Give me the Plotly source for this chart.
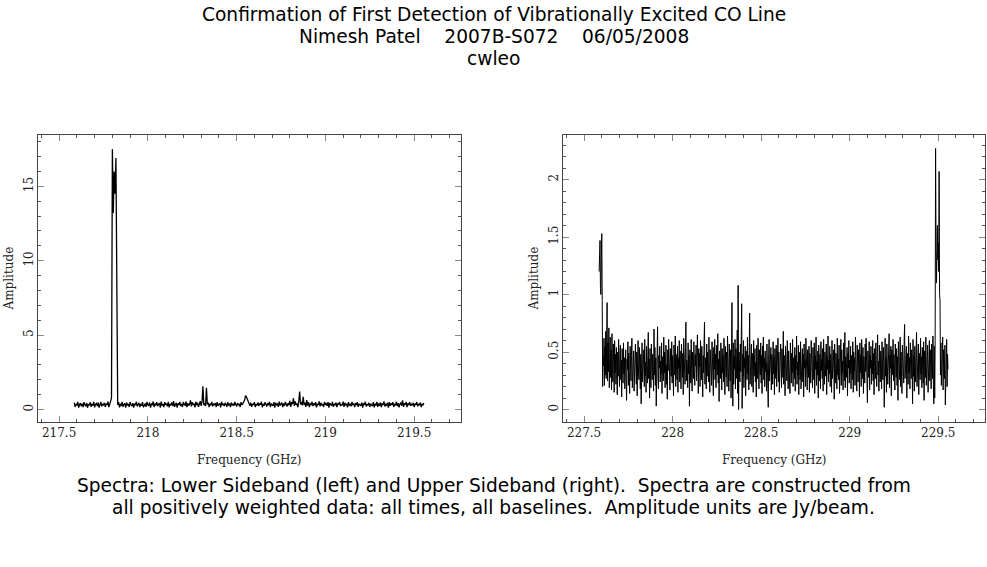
import numpy as np
import plotly.graph_objs as go
from plotly.subplots import make_subplots

# Lower sideband channels, 5 MHz apart, starting at 217.585 GHz
lsb_start_ghz = 217.585
lsb_step_ghz = 0.005
lsb_amp = [
    0.46, 0.16, 0.36, 0.27, 0.50, 0.12, 0.33, 0.42, 0.21, 0.38, 0.15, 0.49, 0.30, 0.24, 0.44, 0.11, 0.35, 0.28, 0.48, 0.17,
    0.37, 0.25, 0.51, 0.14, 0.34, 0.40, 0.22, 0.46, 0.12, 0.32, 0.49, 0.20, 0.36, 0.27, 0.44, 0.16, 0.39, 0.30, 0.52, 0.15,
    0.35, 0.42, 0.75, 17.50, 13.20, 16.00, 14.50, 16.90, 3.60, 0.30, 0.48, 0.14, 0.37, 0.23, 0.50, 0.17, 0.34, 0.40, 0.11, 0.46,
    0.27, 0.36, 0.16, 0.49, 0.31, 0.22, 0.42, 0.12, 0.38, 0.28, 0.51, 0.20, 0.33, 0.44, 0.15, 0.37, 0.25, 0.48, 0.14, 0.35,
    0.40, 0.17, 0.50, 0.30, 0.24, 0.46, 0.11, 0.36, 0.32, 0.53, 0.16, 0.39, 0.27, 0.49, 0.22, 0.34, 0.42, 0.12, 0.52, 0.25,
    0.35, 0.15, 0.48, 0.31, 0.38, 0.20, 0.51, 0.14, 0.37, 0.28, 0.46, 0.24, 0.55, 0.17, 0.34, 0.44, 0.12, 0.40, 0.30, 0.50,
    0.22, 0.36, 0.16, 0.49, 0.32, 0.27, 0.53, 0.15, 0.42, 0.25, 0.35, 0.60, 0.20, 0.48, 0.30, 0.38, 0.14, 0.51, 0.28, 0.44,
    0.17, 0.37, 0.55, 0.23, 0.49, 1.55, 0.30, 0.35, 0.22, 1.45, 0.33, 0.46, 0.15, 0.38, 0.27, 0.50, 0.20, 0.36, 0.31, 0.42,
    0.16, 0.48, 0.25, 0.34, 0.40, 0.14, 0.51, 0.28, 0.37, 0.22, 0.44, 0.32, 0.17, 0.49, 0.30, 0.35, 0.15, 0.46, 0.27, 0.38,
    0.24, 0.50, 0.33, 0.20, 0.42, 0.28, 0.36, 0.16, 0.48, 0.31, 0.38, 0.48, 0.62, 0.92, 0.85, 0.70, 0.52, 0.34, 0.25, 0.44,
    0.17, 0.37, 0.30, 0.49, 0.15, 0.35, 0.27, 0.46, 0.22, 0.40, 0.32, 0.51, 0.14, 0.36, 0.25, 0.48, 0.31, 0.20, 0.42, 0.28,
    0.50, 0.16, 0.38, 0.33, 0.24, 0.49, 0.12, 0.44, 0.30, 0.36, 0.17, 0.52, 0.27, 0.34, 0.46, 0.15, 0.40, 0.25, 0.50, 0.32,
    0.20, 0.42, 0.28, 0.58, 0.16, 0.48, 0.35, 0.75, 0.24, 0.53, 0.31, 0.38, 0.14, 0.55, 1.20, 0.33, 0.50, 0.27, 0.85, 0.30,
    0.46, 0.17, 0.62, 0.25, 0.49, 0.15, 0.37, 0.32, 0.51, 0.22, 0.40, 0.28, 0.48, 0.14, 0.36, 0.30, 0.53, 0.20, 0.44, 0.27,
    0.35, 0.16, 0.50, 0.31, 0.38, 0.24, 0.48, 0.12, 0.42, 0.33, 0.25, 0.51, 0.17, 0.37, 0.28, 0.46, 0.15, 0.40, 0.32, 0.49,
    0.22, 0.36, 0.27, 0.52, 0.16, 0.44, 0.30, 0.34, 0.14, 0.48, 0.25, 0.38, 0.20, 0.50, 0.31, 0.36, 0.15, 0.42, 0.28, 0.49,
    0.17, 0.37, 0.33, 0.24, 0.46, 0.12, 0.40, 0.30, 0.51, 0.20, 0.35, 0.27, 0.44, 0.16, 0.38, 0.32, 0.22, 0.48, 0.14, 0.36,
    0.30, 0.50, 0.17, 0.40, 0.25, 0.46, 0.15, 0.37, 0.33, 0.53, 0.20, 0.35, 0.28, 0.44, 0.12, 0.49, 0.24, 0.38, 0.31, 0.48,
    0.16, 0.36, 0.27, 0.51, 0.22, 0.42, 0.14, 0.34, 0.46, 0.25, 0.60, 0.17, 0.40, 0.30, 0.50, 0.15, 0.37, 0.32, 0.48, 0.24,
    0.35, 0.27, 0.44, 0.16, 0.38, 0.31, 0.49, 0.20, 0.36, 0.28, 0.46, 0.15, 0.37, 0.30, 0.42,
]

# Upper sideband channels, 2.5 MHz apart, starting at 227.585 GHz
usb_start_ghz = 227.585
usb_step_ghz = 0.0025
usb_amp = [
    1.20, 1.40, 1.47, 1.05, 1.00, 1.30, 1.53, 0.95, 0.20, 0.46, 0.38, 0.62, 0.21, 0.55, 0.30, 0.68, 0.27, 0.49, 0.93, 0.25,
    0.58, 0.33, 0.71, 0.19, 0.44, 0.63, 0.28, 0.52, 0.17, 0.66, 0.36, 0.24, 0.57, 0.41, 0.15, 0.60, 0.32, 0.48, 0.22, 0.54,
    0.39, 0.13, 0.50, 0.29, 0.61, 0.35, 0.20, 0.47, 0.56, 0.26, 0.43, 0.11, 0.53, 0.37, 0.23, 0.58, 0.31, 0.45, 0.18, 0.40,
    0.52, 0.27, 0.08, 0.44, 0.35, 0.59, 0.21, 0.49, 0.30, 0.14, 0.55, 0.38, 0.25, 0.47, 0.62, 0.19, 0.42, 0.33, 0.51, 0.16,
    0.46, 0.28, 0.57, 0.37, 0.22, 0.50, 0.12, 0.43, 0.60, 0.31, 0.26, 0.54, 0.40, 0.18, 0.48, 0.05, 0.36, 0.58, 0.24, 0.45,
    0.33, 0.52, 0.20, 0.61, 0.29, 0.41, 0.15, 0.55, 0.38, 0.23, 0.49, 0.67, 0.27, 0.44, 0.10, 0.53, 0.34, 0.19, 0.57, 0.40,
    0.26, 0.48, 0.35, 0.16, 0.70, 0.30, 0.54, 0.21, 0.45, 0.03, 0.39, 0.60, 0.72, 0.28, 0.18, 0.47, 0.36, 0.55, 0.24, 0.42,
    0.31, 0.58, 0.14, 0.46, 0.37, 0.25, 0.63, 0.32, 0.50, 0.19, 0.43, 0.56, 0.22, 0.39, 0.09, 0.52, 0.34, 0.61, 0.27, 0.44,
    0.17, 0.53, 0.40, 0.29, 0.59, 0.23, 0.47, 0.35, 0.12, 0.56, 0.42, 0.30, 0.64, 0.20, 0.48, 0.38, 0.26, 0.55, 0.15, 0.45,
    0.36, 0.60, 0.24, 0.51, 0.32, 0.18, 0.57, 0.41, 0.28, 0.49, 0.13, 0.62, 0.34, 0.46, 0.22, 0.54, 0.76, 0.25, 0.43, 0.37,
    0.19, 0.58, 0.31, 0.47, 0.03, 0.52, 0.39, 0.23, 0.61, 0.35, 0.16, 0.50, 0.44, 0.27, 0.59, 0.33, 0.21, 0.48, 0.38, 0.56,
    0.25, 0.42, 0.65, 0.30, 0.14, 0.53, 0.37, 0.49, 0.20, 0.60, 0.34, 0.26, 0.55, 0.41, 0.11, 0.47, 0.32, 0.58, 0.76, 0.22,
    0.45, 0.36, 0.18, 0.57, 0.29, 0.50, 0.40, 0.24, 0.63, 0.33, 0.15, 0.52, 0.38, 0.46, 0.21, 0.59, 0.28, 0.43, 0.12, 0.54,
    0.35, 0.61, 0.26, 0.48, 0.19, 0.56, 0.39, 0.30, 0.66, 0.23, 0.44, 0.07, 0.51, 0.37, 0.27, 0.58, 0.42, 0.17, 0.53, 0.32,
    0.47, 0.24, 0.62, 0.36, 0.13, 0.55, 0.40, 0.28, 0.50, 0.20, 0.64, 0.33, 0.45, 0.16, 0.57, 0.38, 0.25, 0.52, 0.10, 0.49,
    0.93, 0.30, 0.03, 0.58, 0.22, 0.46, 0.35, 0.61, 0.18, 0.53, 0.41, 0.27, 0.69, 0.14, 1.08, 0.00, 0.50, 0.37, 0.24, 0.57,
    0.33, 0.73, 0.92, 0.01, 0.48, 0.29, 0.60, 0.19, 0.45, 0.36, 0.55, 0.12, 0.51, 0.40, 0.26, 0.63, 0.31, 0.47, 0.17, 0.58,
    0.84, 0.22, 0.44, 0.34, 0.57, 0.20, 0.49, 0.38, 0.15, 0.60, 0.29, 0.46, 0.53, 0.24, 0.41, 0.11, 0.56, 0.35, 0.27, 0.62,
    0.43, 0.18, 0.52, 0.39, 0.30, 0.58, 0.23, 0.47, 0.14, 0.55, 0.36, 0.63, 0.26, 0.45, 0.20, 0.51, 0.33, 0.41, 0.16, 0.57,
    0.37, 0.28, 0.02, 0.49, 0.61, 0.25, 0.44, 0.34, 0.54, 0.17, 0.48, 0.39, 0.22, 0.59, 0.31, 0.46, 0.13, 0.53, 0.40, 0.27,
    0.56, 0.20, 0.45, 0.35, 0.62, 0.24, 0.50, 0.15, 0.42, 0.31, 0.57, 0.38, 0.19, 0.53, 0.44, 0.28, 0.68, 0.22, 0.47, 0.36,
    0.12, 0.55, 0.33, 0.46, 0.25, 0.60, 0.40, 0.18, 0.51, 0.29, 0.43, 0.14, 0.58, 0.37, 0.23, 0.49, 0.32, 0.61, 0.20, 0.45,
    0.38, 0.27, 0.54, 0.16, 0.47, 0.35, 0.64, 0.22, 0.41, 0.30, 0.56, 0.13, 0.50, 0.39, 0.26, 0.59, 0.18, 0.44, 0.34, 0.53,
    0.24, 0.48, 0.11, 0.57, 0.36, 0.43, 0.20, 0.62, 0.31, 0.46, 0.17, 0.52, 0.40, 0.28, 0.55, 0.15, 0.49, 0.37, 0.23, 0.60,
    0.33, 0.45, 0.19, 0.54, 0.39, 0.26, 0.58, 0.14, 0.47, 0.35, 0.63, 0.21, 0.42, 0.30, 0.51, 0.10, 0.56, 0.38, 0.25, 0.48,
    0.18, 0.59, 0.34, 0.44, 0.27, 0.53, 0.16, 0.61, 0.37, 0.22, 0.50, 0.41, 0.29, 0.57, 0.13, 0.46, 0.35, 0.64, 0.24, 0.43,
    0.31, 0.55, 0.20, 0.48, 0.38, 0.15, 0.60, 0.27, 0.45, 0.33, 0.52, 0.09, 0.57, 0.40, 0.23, 0.49, 0.36, 0.18, 0.62, 0.30,
    0.44, 0.26, 0.56, 0.14, 0.47, 0.37, 0.61, 0.21, 0.52, 0.32, 0.42, 0.17, 0.58, 0.35, 0.25, 0.67, 0.19, 0.46, 0.39, 0.28,
    0.54, 0.12, 0.49, 0.36, 0.60, 0.23, 0.43, 0.31, 0.55, 0.18, 0.47, 0.40, 0.26, 0.59, 0.15, 0.50, 0.34, 0.45, 0.21, 0.63,
    0.29, 0.41, 0.16, 0.56, 0.37, 0.24, 0.52, 0.44, 0.11, 0.58, 0.32, 0.48, 0.20, 0.61, 0.35, 0.27, 0.54, 0.14, 0.46, 0.39,
    0.23, 0.57, 0.33, 0.62, 0.19, 0.45, 0.06, 0.51, 0.38, 0.28, 0.59, 0.17, 0.47, 0.36, 0.55, 0.22, 0.43, 0.31, 0.60, 0.25,
    0.49, 0.13, 0.53, 0.40, 0.27, 0.58, 0.34, 0.20, 0.46, 0.65, 0.30, 0.42, 0.16, 0.56, 0.37, 0.24, 0.51, 0.44, 0.18, 0.59,
    0.35, 0.26, 0.54, 0.41, 0.02, 0.48, 0.62, 0.29, 0.45, 0.15, 0.57, 0.38, 0.22, 0.50, 0.33, 0.66, 0.19, 0.47, 0.36, 0.55,
    0.12, 0.52, 0.30, 0.43, 0.61, 0.25, 0.48, 0.37, 0.17, 0.57, 0.40, 0.28, 0.53, 0.21, 0.46, 0.08, 0.59, 0.34, 0.44, 0.26,
    0.63, 0.20, 0.50, 0.38, 0.14, 0.56, 0.31, 0.47, 0.23, 0.60, 0.74, 0.27, 0.42, 0.35, 0.55, 0.10, 0.49, 0.39, 0.22, 0.64,
    0.32, 0.45, 0.18, 0.58, 0.36, 0.27, 0.52, 0.41, 0.05, 0.61, 0.29, 0.47, 0.16, 0.55, 0.38, 0.24, 0.50, 0.67, 0.20, 0.44,
    0.34, 0.57, 0.13, 0.49, 0.40, 0.26, 0.62, 0.31, 0.46, 0.19, 0.54, 0.37, 0.23, 0.59, 0.08, 0.51, 0.43, 0.28, 0.63, 0.21,
    0.48, 0.35, 0.56, 0.15, 0.44, 0.30, 0.60, 0.25, 0.52, 0.38, 0.18, 0.57, 0.42, 0.27, 0.64, 0.22, 0.05, 0.55, 0.10, 0.60,
    2.27, 1.40, 1.10, 1.55, 1.60, 1.30, 1.45, 1.20, 2.07, 1.00, 0.95, 0.30, 0.58, 0.21, 0.49, 0.36, 0.63, 0.17, 0.52, 0.40,
    0.27, 0.56, 0.04, 0.45, 0.33, 0.61, 0.20, 0.48, 0.35,
]

title_lines = [
    "Confirmation of First Detection of Vibrationally Excited CO Line",
    "Nimesh Patel\u00a0\u00a0\u00a0\u00a02007B-S072\u00a0\u00a0\u00a0\u00a006/05/2008",
    "cwleo",
]
caption_lines = [
    "Spectra: Lower Sideband (left) and Upper Sideband (right).\u00a0\u00a0Spectra are constructed from",
    "all positively weighted data: all times, all baselines.\u00a0\u00a0Amplitude units are Jy/beam.",
]
x_title = "Frequency (GHz)"
y_title = "Amplitude"

lsb_freq = lsb_start_ghz + lsb_step_ghz * np.arange(len(lsb_amp))
usb_freq = usb_start_ghz + usb_step_ghz * np.arange(len(usb_amp))

W, H = 987, 567
text_font = dict(family="DejaVu Sans", size=18.6, color="black")
axis_font = dict(family="DejaVu Serif", size=12, color="#222")

# plot boxes in pixels: (left, right) for each panel, shared top/bottom
boxes = [(38, 461), (563, 985)]
box_top, box_bottom = 135, 422

fig = make_subplots(rows=1, cols=2)
fig.add_trace(go.Scatter(x=lsb_freq, y=lsb_amp, mode='lines',
                         line=dict(color='black', width=1.3), showlegend=False), row=1, col=1)
fig.add_trace(go.Scatter(x=usb_freq, y=usb_amp, mode='lines',
                         line=dict(color='black', width=1), showlegend=False), row=1, col=2)

common_x = dict(showline=True, linecolor='#444', linewidth=1, mirror='ticks', ticks='inside',
                ticklen=6, tickcolor='#888', dtick=0.5, showgrid=False, zeroline=False,
                tickfont=axis_font, minor=dict(ticks='inside', ticklen=3, dtick=0.1, tickcolor='#555'))
common_y = dict(showline=True, linecolor='#444', linewidth=1, mirror='ticks', ticks='inside',
                ticklen=6, tickcolor='#888', showgrid=False, zeroline=False, tickangle=-90,
                tickfont=axis_font, ticklabelstandoff=-1)

y_dom = [1 - box_bottom / H, 1 - box_top / H]
fig.update_xaxes(common_x, domain=[boxes[0][0] / W, boxes[0][1] / W], range=[217.381, 219.764],
                 tick0=217.5, row=1, col=1)
fig.update_xaxes(common_x, domain=[boxes[1][0] / W, boxes[1][1] / W], range=[227.381, 229.764],
                 tick0=227.5, row=1, col=2)
fig.update_yaxes(common_y, domain=y_dom, range=[-0.85, 18.45], dtick=5,
                 minor=dict(ticks='inside', ticklen=3, dtick=1, tickcolor='#555'), row=1, col=1)
fig.update_yaxes(common_y, domain=y_dom, range=[-0.108, 2.387], dtick=0.5,
                 minor=dict(ticks='inside', ticklen=3, dtick=0.1, tickcolor='#555'), row=1, col=2)

# title block, caption and axis titles, placed in pixels from the top left of the page
annotations = []
for i, line in enumerate(title_lines):
    annotations.append(dict(text=line, x=0.5, y=1 - (14 + 22 * i) / H, xref='paper', yref='paper',
                            showarrow=False, font=text_font, xanchor='center', yanchor='middle'))
for i, line in enumerate(caption_lines):
    annotations.append(dict(text=line, x=0.5, y=1 - (485 + 22 * i) / H, xref='paper', yref='paper',
                            showarrow=False, font=text_font, xanchor='center', yanchor='middle'))
for left, right in boxes:
    annotations.append(dict(text=x_title, x=(left + right) / 2 / W, y=1 - 460 / H, xref='paper', yref='paper',
                            showarrow=False, font=axis_font, xanchor='center', yanchor='middle'))
    annotations.append(dict(text=y_title, x=(left - 30) / W, y=1 - (box_top + box_bottom) / 2 / H,
                            xref='paper', yref='paper', textangle=-90, showarrow=False,
                            font=axis_font, xanchor='center', yanchor='middle'))

fig.update_layout(width=W, height=H, margin=dict(l=0, r=0, t=0, b=0),
                  paper_bgcolor='white', plot_bgcolor='white',
                  annotations=annotations, showlegend=False)

# drop the default page margin so the figure fills the window exactly
fig.write_html("out.html", config={'displayModeBar': False},
               post_script="document.body.style.margin='0';")
